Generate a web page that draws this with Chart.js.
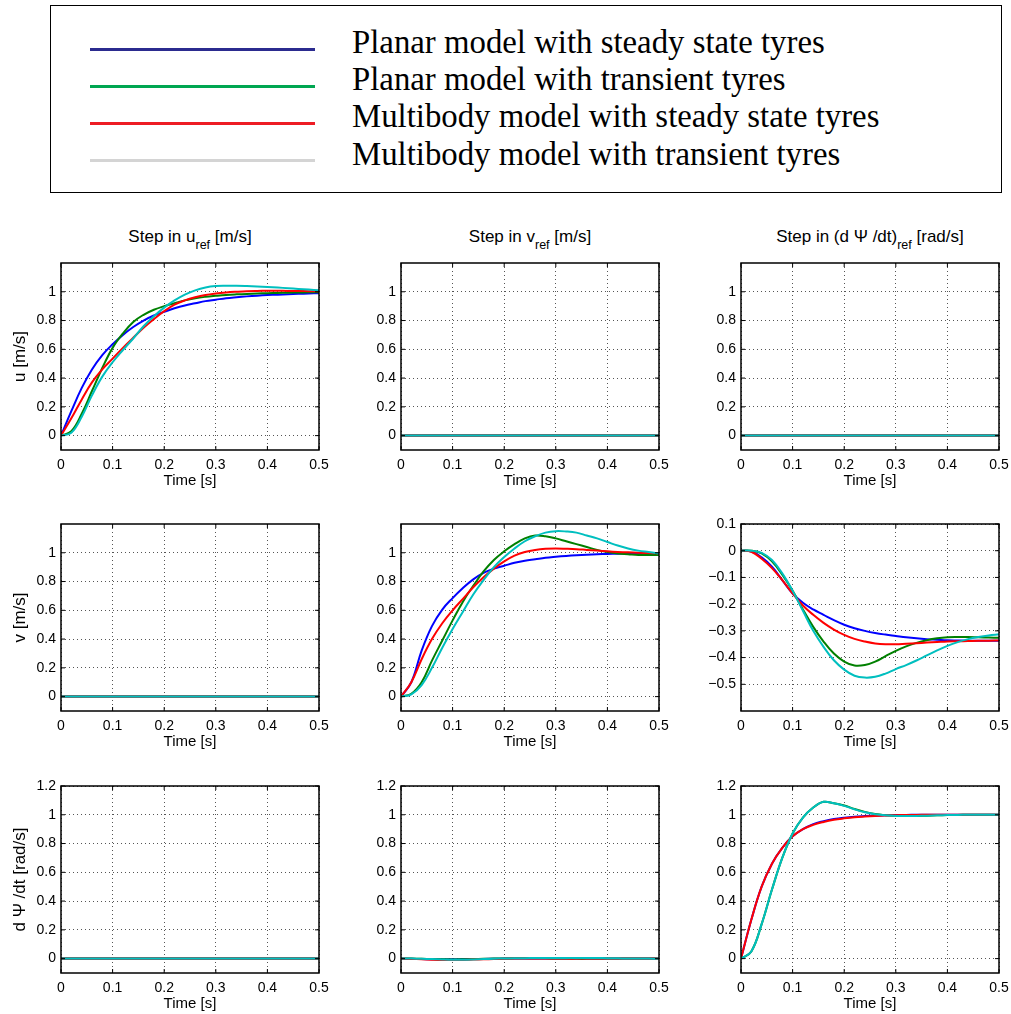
<!DOCTYPE html>
<html>
<head>
<meta charset="utf-8">
<script src="https://cdn.jsdelivr.net/npm/chart.js@4.4.1/dist/chart.umd.min.js"></script>
<style>
  html, body { margin: 0; padding: 0; background: #fff; overflow: hidden; }
  body { width: 1011px; height: 1014px; position: relative; font-family: "Liberation Sans", Arial, sans-serif; color: #000; }
  #legend-box { position: absolute; left: 50px; top: 5px; width: 952px; height: 188px; border: 1.5px solid #000; box-sizing: border-box; }
  .swatch { position: absolute; left: 90px; width: 225px; height: 3px; }
  .entry { position: absolute; left: 352px; font-family: "Liberation Serif", "Times New Roman", serif; font-size: 32.8px; line-height: 32.8px; white-space: nowrap; }
  .col-title { position: absolute; width: 320px; text-align: center; font-size: 17px; line-height: 17px; white-space: nowrap; }
  .col-title sub { font-size: 12.5px; line-height: 0; vertical-align: -7px; }
  canvas { position: absolute; }
</style>
</head>
<body>
<div id="legend-box"></div>
<script>
// time axis of every response [s]
const timeS = [0, 0.02, 0.04, 0.06, 0.08, 0.1, 0.12, 0.14, 0.16, 0.18, 0.2, 0.22, 0.24,
  0.26, 0.28, 0.3, 0.32, 0.34, 0.36, 0.38, 0.4, 0.42, 0.44, 0.46, 0.48, 0.5]

const seriesLabels = [
  'Planar model with steady state tyres',
  'Planar model with transient tyres',
  'Multibody model with steady state tyres',
  'Multibody model with transient tyres'
]
const lineColors = ['#0000ff', '#008000', '#ff0000', '#00bfbf']
const legendColors = ['#2b2b8f', '#00a651', '#ed1c24', '#d4d4d4']

const stepTitles = [['Step in u', ' [m/s]'], ['Step in v', ' [m/s]'], ['Step in (d \u03a8 /dt)', ' [rad/s]']]
const outputLabels = ['u [m/s]', 'v [m/s]', 'd \u03a8 /dt [rad/s]']

const xTicks = [0, 0.1, 0.2, 0.3, 0.4, 0.5]
const yTicksUnit = [0, 0.2, 0.4, 0.6, 0.8, 1]
const yTicksYaw = [0, 0.2, 0.4, 0.6, 0.8, 1, 1.2]
const yTicksLateral = [-0.5, -0.4, -0.3, -0.2, -0.1, 0, 0.1]

const zeroResponse = [0, 0, 0, 0, 0, 0, 0, 0, 0, 0, 0, 0, 0, 0, 0, 0, 0, 0, 0, 0, 0, 0, 0, 0, 0, 0]

// u after a step in u_ref
const uU_planarSteady = [0, 0.17, 0.33, 0.46, 0.56, 0.635, 0.70, 0.755, 0.80, 0.835, 0.86, 0.885, 0.905,
  0.92, 0.935, 0.945, 0.955, 0.962, 0.968, 0.973, 0.977, 0.98, 0.983, 0.986, 0.988, 0.99]
const uU_planarTransient = [0, 0.03, 0.15, 0.31, 0.47, 0.61, 0.71, 0.79, 0.84, 0.875, 0.90, 0.92, 0.94,
  0.955, 0.965, 0.972, 0.978, 0.982, 0.985, 0.988, 0.99, 0.992, 0.994, 0.995, 0.996, 0.997]
const uU_multiSteady = [0, 0.12, 0.25, 0.37, 0.46, 0.535, 0.61, 0.68, 0.75, 0.81, 0.865, 0.91, 0.94,
  0.962, 0.978, 0.988, 0.995, 1.0, 1.004, 1.006, 1.007, 1.007, 1.006, 1.005, 1.004, 1.003]
const uU_multiTransient = [0, 0.02, 0.13, 0.28, 0.41, 0.51, 0.595, 0.675, 0.76, 0.83, 0.89, 0.94, 0.98,
  1.01, 1.03, 1.04, 1.042, 1.042, 1.04, 1.037, 1.033, 1.029, 1.025, 1.02, 1.015, 1.01]

// v after a step in v_ref
const vV_planarSteady = [0, 0.1, 0.32, 0.49, 0.605, 0.685, 0.755, 0.815, 0.86, 0.89, 0.91, 0.93, 0.945,
  0.955, 0.965, 0.972, 0.978, 0.983, 0.987, 0.99, 0.992, 0.994, 0.995, 0.996, 0.997, 0.998]
const vV_planarTransient = [0, 0.02, 0.1, 0.25, 0.39, 0.53, 0.66, 0.77, 0.87, 0.95, 1.01, 1.06, 1.1,
  1.12, 1.115, 1.1, 1.08, 1.06, 1.04, 1.02, 1.005, 0.995, 0.99, 0.985, 0.985, 0.985]
const vV_multiSteady = [0, 0.1, 0.26, 0.40, 0.51, 0.60, 0.68, 0.76, 0.83, 0.89, 0.94, 0.98, 1.005,
  1.02, 1.028, 1.03, 1.028, 1.025, 1.02, 1.015, 1.01, 1.006, 1.003, 1.0, 0.998, 0.996]
const vV_multiTransient = [0, 0.015, 0.08, 0.2, 0.34, 0.47, 0.59, 0.71, 0.81, 0.9, 0.97, 1.03, 1.08,
  1.115, 1.14, 1.15, 1.148, 1.14, 1.12, 1.1, 1.075, 1.05, 1.03, 1.015, 1.005, 0.995]

// v after a step in (dPsi/dt)_ref
const vR_planarSteady = [0, -0.003, -0.025, -0.06, -0.11, -0.16, -0.195, -0.22, -0.24, -0.26, -0.277, -0.29, -0.3,
  -0.308, -0.314, -0.319, -0.324, -0.328, -0.331, -0.333, -0.335, -0.336, -0.337, -0.337, -0.337, -0.337]
const vR_planarTransient = [0, 0, -0.01, -0.04, -0.09, -0.15, -0.22, -0.285, -0.34, -0.385, -0.415, -0.43, -0.428,
  -0.415, -0.395, -0.375, -0.358, -0.345, -0.335, -0.328, -0.324, -0.323, -0.323, -0.324, -0.325, -0.326]
const vR_multiSteady = [0, -0.004, -0.03, -0.065, -0.11, -0.16, -0.205, -0.24, -0.27, -0.295, -0.315, -0.33, -0.34,
  -0.347, -0.35, -0.35, -0.348, -0.346, -0.344, -0.342, -0.34, -0.339, -0.338, -0.337, -0.337, -0.336]
const vR_multiTransient = [0, 0, -0.008, -0.035, -0.085, -0.15, -0.225, -0.3, -0.36, -0.41, -0.445, -0.468, -0.475,
  -0.472, -0.46, -0.443, -0.428, -0.411, -0.392, -0.373, -0.356, -0.342, -0.331, -0.323, -0.317, -0.313]

// dPsi/dt after a step in v_ref (almost nothing)
const rV_planarSteady = [0, -0.001, -0.003, -0.004, -0.004, -0.004, -0.003, -0.002, -0.002, -0.001, 0, 0, 0,
  0, 0, 0, 0, 0, 0, 0, 0, 0, 0, 0, 0, 0]
const rV_planarTransient = [0, 0, -0.001, -0.003, -0.005, -0.006, -0.005, -0.003, -0.001, 0, 0.001, 0.002, 0.002,
  0.002, 0.002, 0.001, 0.001, 0, 0, 0, 0, 0, 0, 0, 0, 0]
const rV_multiSteady = [0, -0.002, -0.005, -0.008, -0.01, -0.01, -0.009, -0.007, -0.005, -0.003, -0.001, 0, 0.001,
  0.001, 0.001, 0.001, 0, 0, 0, 0, 0, 0, 0, 0, 0, 0]
const rV_multiTransient = [0, 0, -0.001, -0.003, -0.006, -0.008, -0.008, -0.006, -0.003, -0.001, 0.001, 0.002, 0.003,
  0.004, 0.005, 0.005, 0.005, 0.005, 0.004, 0.004, 0.003, 0.002, 0.001, 0.001, 0, 0]

// dPsi/dt after a step in (dPsi/dt)_ref
const rR_planarSteady = [0, 0.27, 0.5, 0.66, 0.77, 0.85, 0.9, 0.935, 0.955, 0.97, 0.98, 0.987, 0.991,
  0.994, 0.996, 0.998, 0.999, 1, 1, 1, 1, 1, 1, 1, 1, 1]
const rR_planarTransient = [0, 0.05, 0.24, 0.48, 0.7, 0.87, 0.98, 1.05, 1.09, 1.08, 1.065, 1.04, 1.02,
  1.005, 0.997, 0.993, 0.992, 0.992, 0.994, 0.996, 0.998, 0.999, 1, 1, 1, 1]
const rR_multiSteady = [0, 0.27, 0.5, 0.66, 0.77, 0.85, 0.9, 0.93, 0.95, 0.965, 0.975, 0.983, 0.988,
  0.992, 0.995, 0.997, 0.998, 0.999, 1, 1, 1, 1, 1, 1, 1, 1]
const rR_multiTransient = [0, 0.05, 0.24, 0.48, 0.7, 0.87, 0.98, 1.05, 1.09, 1.08, 1.062, 1.038, 1.018,
  1.004, 0.996, 0.992, 0.991, 0.992, 0.994, 0.996, 0.998, 0.999, 1, 1, 1, 1]

const panels = [
  { row: 0, col: 0, series: [uU_planarSteady, uU_planarTransient, uU_multiSteady, uU_multiTransient], yTicks: yTicksUnit, yMin: -0.1, yMax: 1.2 },
  { row: 0, col: 1, series: [zeroResponse, zeroResponse, zeroResponse, zeroResponse], yTicks: yTicksUnit, yMin: -0.1, yMax: 1.2 },
  { row: 0, col: 2, series: [zeroResponse, zeroResponse, zeroResponse, zeroResponse], yTicks: yTicksUnit, yMin: -0.1, yMax: 1.2 },
  { row: 1, col: 0, series: [zeroResponse, zeroResponse, zeroResponse, zeroResponse], yTicks: yTicksUnit, yMin: -0.1, yMax: 1.2 },
  { row: 1, col: 1, series: [vV_planarSteady, vV_planarTransient, vV_multiSteady, vV_multiTransient], yTicks: yTicksUnit, yMin: -0.1, yMax: 1.2 },
  { row: 1, col: 2, series: [vR_planarSteady, vR_planarTransient, vR_multiSteady, vR_multiTransient], yTicks: yTicksLateral, yMin: -0.6, yMax: 0.1 },
  { row: 2, col: 0, series: [zeroResponse, zeroResponse, zeroResponse, zeroResponse], yTicks: yTicksYaw, yMin: -0.1, yMax: 1.2 },
  { row: 2, col: 1, series: [rV_planarSteady, rV_planarTransient, rV_multiSteady, rV_multiTransient], yTicks: yTicksYaw, yMin: -0.1, yMax: 1.2 },
  { row: 2, col: 2, series: [rR_planarSteady, rR_planarTransient, rR_multiSteady, rR_multiTransient], yTicks: yTicksYaw, yMin: -0.1, yMax: 1.2 }
]

// layout of the subplot grid (px)
const PLOT_LEFT = [61, 401, 741]
const PLOT_TOP = [263, 524, 786]
const PLOT_W = 258
const PLOT_H = 187
const Y_AXIS_W = 54
const X_AXIS_H = 42
const PAD_TOP = 12
const PAD_RIGHT = 12
const TICK_LEN = 4

const tickFont = { family: 'Liberation Sans', size: 14 }
const labelFont = { family: 'Liberation Sans', size: 17 }

const fmt = v => (v < 0 ? '\u2212' + String(-v) : String(v))

// black frame with matlab-ish inward tick marks
const axesBox = {
  id: 'axesBox',
  afterDatasetsDraw(chart) {
    const { ctx, chartArea: a, scales } = chart
    ctx.save()
    ctx.strokeStyle = '#000'
    ctx.lineWidth = 1
    ctx.beginPath()
    scales.x.ticks.forEach(t => {
      const px = scales.x.getPixelForValue(t.value)
      ctx.moveTo(px, a.bottom); ctx.lineTo(px, a.bottom - TICK_LEN)
      ctx.moveTo(px, a.top); ctx.lineTo(px, a.top + TICK_LEN)
    })
    scales.y.ticks.forEach(t => {
      const py = scales.y.getPixelForValue(t.value)
      ctx.moveTo(a.left, py); ctx.lineTo(a.left + TICK_LEN, py)
      ctx.moveTo(a.right, py); ctx.lineTo(a.right - TICK_LEN, py)
    })
    ctx.stroke()
    ctx.lineWidth = 1.5
    ctx.strokeRect(a.left, a.top, a.right - a.left, a.bottom - a.top)
    ctx.restore()
  }
}

const makeChart = (panel) => {
  const canvas = document.createElement('canvas')
  canvas.width = Y_AXIS_W + PLOT_W + PAD_RIGHT
  canvas.height = PAD_TOP + PLOT_H + X_AXIS_H
  canvas.style.left = (PLOT_LEFT[panel.col] - Y_AXIS_W) + 'px'
  canvas.style.top = (PLOT_TOP[panel.row] - PAD_TOP) + 'px'
  document.body.appendChild(canvas)

  return new Chart(canvas.getContext('2d'), {
    type: 'line',
    data: {
      datasets: panel.series.map((values, i) => ({
        label: seriesLabels[i],
        data: values.map((y, k) => ({ x: timeS[k], y })),
        borderColor: lineColors[i],
        borderWidth: 2,
        pointRadius: 0,
        fill: false,
        tension: 0.4,
        order: 3 - i
      }))
    },
    options: {
      responsive: false,
      animation: false,
      events: [],
      layout: { padding: { left: 0, top: PAD_TOP, right: PAD_RIGHT, bottom: 0 } },
      plugins: {
        legend: { display: false },
        title: { display: false },
        tooltip: { enabled: false }
      },
      scales: {
        x: {
          type: 'linear',
          min: 0,
          max: 0.5,
          afterBuildTicks: s => { s.ticks = xTicks.map(v => ({ value: v })) },
          afterFit: s => { s.height = X_AXIS_H; s.paddingLeft = 0; s.paddingRight = 0 },
          grid: { color: '#555', lineWidth: 1, drawTicks: false },
          border: { display: false, dash: [1, 3] },
          ticks: { color: '#000', font: tickFont, padding: 7, maxRotation: 0, autoSkip: false, callback: v => fmt(v) },
          title: { display: true, text: 'Time [s]', color: '#000', font: { family: 'Liberation Sans', size: 15 }, padding: { top: 0, bottom: 2 } }
        },
        y: {
          min: panel.yMin,
          max: panel.yMax,
          afterBuildTicks: s => { s.ticks = panel.yTicks.map(v => ({ value: v })) },
          afterFit: s => { s.width = Y_AXIS_W; s.paddingTop = 0; s.paddingBottom = 0 },
          grid: { color: '#555', lineWidth: 1, drawTicks: false },
          border: { display: false, dash: [1, 3] },
          ticks: { color: '#000', font: tickFont, padding: 5, autoSkip: false, callback: v => fmt(v) },
          title: { display: panel.col === 0, text: outputLabels[panel.row], color: '#000', font: labelFont, padding: { top: 3, bottom: 0 } }
        }
      }
    },
    plugins: [axesBox]
  })
}

// legend, built from the same labels
seriesLabels.forEach((label, i) => {
  const sw = document.createElement('div')
  sw.className = 'swatch'
  sw.style.top = (47.5 + i * 37.3) + 'px'
  sw.style.background = legendColors[i]
  document.body.appendChild(sw)

  const txt = document.createElement('div')
  txt.className = 'entry'
  txt.style.top = (25.6 + i * 37.3) + 'px'
  txt.textContent = label
  document.body.appendChild(txt)
})

// column titles with the "ref" subscript
stepTitles.forEach(([head, tail], col) => {
  const el = document.createElement('div')
  el.className = 'col-title'
  el.style.left = (PLOT_LEFT[col] + PLOT_W / 2 - 160) + 'px'
  el.style.top = '228px'
  el.append(head)
  const sub = document.createElement('sub')
  sub.textContent = 'ref'
  el.append(sub, tail)
  document.body.appendChild(el)
})

panels.forEach(makeChart)
</script>
</body>
</html>
